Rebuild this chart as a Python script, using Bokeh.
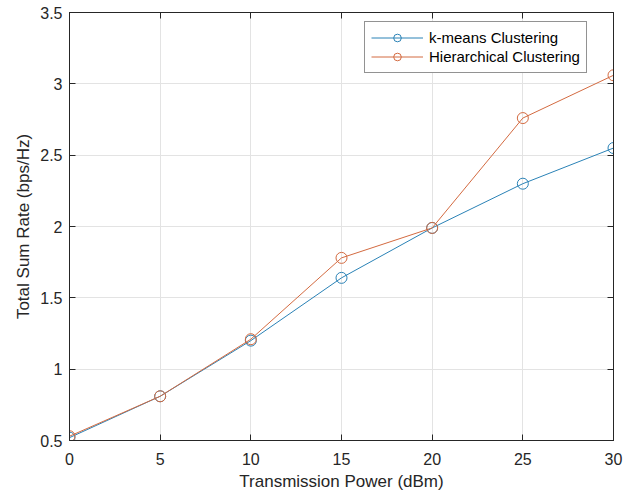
from bokeh.plotting import figure
from bokeh.models import (FixedTicker, CustomJSTickFormatter, LinearAxis, Range1d, Legend, LegendItem)
from bokeh.embed import file_html
from bokeh.resources import INLINE

power_dbm = [0, 5, 10, 15, 20, 25, 30]
kmeans_rate = [0.52, 0.81, 1.20, 1.64, 1.99, 2.30, 2.55]
hier_rate = [0.53, 0.81, 1.21, 1.78, 1.99, 2.76, 3.06]
x_ticks = [0, 5, 10, 15, 20, 25, 30]
y_ticks = [0.5, 1, 1.5, 2, 2.5, 3, 3.5]

FONT = "Liberation Sans"
AX = "#262626"
BLUE = "#2a82b6"
ORANGE = "#d36a40"

p = figure(width=630, height=493, output_backend="svg", toolbar_location=None,
           x_range=Range1d(0, 30), y_range=Range1d(0.5, 3.5),
           min_border_left=69, min_border_right=17, min_border_top=12, min_border_bottom=52)
p.outline_line_color = AX
p.outline_line_width = 1
p.background_fill_color = "white"
p.border_fill_color = "white"

fmt = CustomJSTickFormatter(code="return tick.toString();")
blank = CustomJSTickFormatter(code="return '';")

for ax, ticks in ((p.xaxis[0], x_ticks), (p.yaxis[0], y_ticks)):
    ax.ticker = FixedTicker(ticks=ticks)
    ax.formatter = fmt
    ax.axis_line_color = AX
    ax.major_tick_line_color = AX
    ax.major_tick_in = 6
    ax.major_tick_out = 0
    ax.minor_tick_line_color = None
    ax.major_label_text_font = FONT
    ax.major_label_text_font_size = "16px"
    ax.major_label_text_color = "#262626"
    ax.axis_label_text_font = FONT
    ax.axis_label_text_font_size = "17px"
    ax.axis_label_text_font_style = "normal"
    ax.axis_label_text_color = "#262626"

p.xaxis[0].axis_label = "Transmission Power (dBm)"
p.yaxis[0].axis_label = "Total Sum Rate (bps/Hz)"
p.xaxis[0].major_label_standoff = 12
p.xaxis[0].axis_label_standoff = 4
p.yaxis[0].major_label_standoff = 7
p.yaxis[0].axis_label_standoff = 4

for loc, ticks in (("right", y_ticks), ("above", x_ticks)):
    a = LinearAxis(ticker=FixedTicker(ticks=ticks), formatter=blank,
                   axis_line_color=AX, major_tick_line_color=AX,
                   major_tick_in=6, major_tick_out=0, minor_tick_line_color=None,
                   major_label_standoff=0, major_label_text_font_size="1px")
    p.add_layout(a, loc)

p.xgrid.ticker = FixedTicker(ticks=x_ticks)
p.ygrid.ticker = FixedTicker(ticks=y_ticks)
p.grid.grid_line_color = "#e3e3e3"
p.grid.grid_line_width = 1

l1 = p.line(power_dbm, kmeans_rate, line_color=BLUE, line_width=1)
s1 = p.scatter(power_dbm, kmeans_rate, marker="circle", size=11, fill_color=None,
               line_color=BLUE, line_width=1)
l2 = p.line(power_dbm, hier_rate, line_color=ORANGE, line_width=1)
s2 = p.scatter(power_dbm, hier_rate, marker="circle", size=11, fill_color=None,
               line_color=ORANGE, line_width=1)

legend = Legend(items=[LegendItem(label="k-means Clustering", renderers=[l1, s1]),
                       LegendItem(label="Hierarchical Clustering", renderers=[l2, s2])],
                location=(295, 367))
legend.label_text_font = FONT
legend.label_text_font_size = "15px"
legend.label_text_color = "#000000"
legend.glyph_width = 52
legend.glyph_height = 19
legend.label_height = 19
legend.label_standoff = 6
legend.spacing = 0
legend.padding = 6
legend.margin = 0
legend.border_line_color = AX
legend.border_line_width = 1
legend.background_fill_color = "white"
legend.background_fill_alpha = 1
p.add_layout(legend, "center")

open("out.html", "w").write(file_html(p, INLINE))
